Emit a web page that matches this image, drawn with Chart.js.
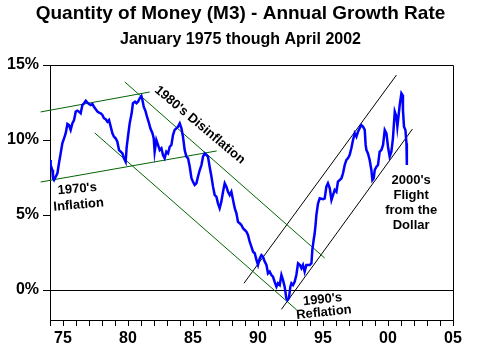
<!DOCTYPE html>
<html><head><meta charset="utf-8">
<script src="https://cdn.jsdelivr.net/npm/chart.js@4/dist/chart.umd.min.js"></script>
<style>html,body{margin:0;padding:0;background:#fff}#wrap{width:481px;height:360px}</style>
</head><body><div id="wrap"><canvas id="c" width="481" height="360"></canvas></div>
<script>
// ---- Data ----
const years = [74.0,74.05,74.18,74.23,74.31,74.57,74.69,74.82,74.95,75.08,
75.21,75.34,75.46,75.59,75.72,75.85,75.98,76.11,76.23,76.36,
76.49,76.62,76.75,76.88,77.0,77.13,77.26,77.38,77.52,77.65,
77.77,77.9,78.03,78.15,78.28,78.42,78.54,78.67,78.8,78.92,
79.05,79.18,79.31,79.44,79.57,79.69,79.82,79.9,80.03,80.13,
80.28,80.38,80.54,80.65,80.77,80.9,81.03,81.11,81.21,81.36,
81.46,81.62,81.72,81.88,81.98,82.05,82.18,82.31,82.44,82.57,
82.69,82.82,82.95,83.08,83.21,83.34,83.46,83.59,83.72,83.85,
83.98,84.11,84.23,84.36,84.49,84.62,84.75,84.88,85.0,85.13,
85.26,85.38,85.52,85.65,85.77,85.9,86.03,86.15,86.28,86.42,
86.54,86.67,86.8,86.92,87.05,87.18,87.31,87.44,87.57,87.69,
87.82,87.95,88.08,88.21,88.34,88.46,88.59,88.72,88.85,88.98,
89.11,89.23,89.36,89.49,89.62,89.75,89.88,90.0,90.13,90.26,
90.38,90.52,90.65,90.77,90.9,91.03,91.15,91.28,91.42,91.54,
91.67,91.8,91.92,92.05,92.18,92.26,92.38,92.49,92.57,92.69,
92.82,92.95,93.08,93.23,93.34,93.46,93.59,93.72,93.98,94.11,
94.18,94.28,94.36,94.44,94.49,94.62,94.75,95.0,95.13,95.26,
95.38,95.52,95.65,95.77,95.9,96.03,96.15,96.28,96.42,96.54,
96.67,96.8,96.92,97.05,97.18,97.31,97.44,97.57,97.69,97.82,
97.95,98.08,98.21,98.28,98.34,98.46,98.59,98.72,98.8,98.9,
98.98,99.11,99.23,99.36,99.49,99.62,99.75,99.88,100.0,100.13,
100.26,100.38,100.52,100.65,100.72,100.82,100.9,101.03,101.11,101.15,
101.23,101.34,101.42,101.45];
const m3Growth = [8.67,8.33,8.0,7.45,7.33,7.78,8.45,9.11,9.78,10.11,
10.45,11.07,11.0,10.67,11.11,11.33,11.89,11.95,11.89,11.78,
12.33,12.45,12.62,12.49,12.4,12.33,12.4,12.22,12.05,11.89,
11.82,11.78,11.67,11.45,11.38,11.22,11.33,10.89,10.45,10.22,
10.11,9.89,9.33,9.22,9.11,8.78,8.55,9.55,10.45,11.11,
11.78,12.45,12.55,12.45,12.55,12.78,12.93,12.67,12.22,11.89,
11.55,11.11,10.78,10.45,10.11,9.22,10.0,9.67,9.33,9.45,
9.0,8.78,9.22,9.11,9.55,9.67,10.33,10.67,10.78,10.89,
11.11,10.78,10.22,9.33,8.89,8.78,8.22,7.45,7.22,7.0,
7.11,7.55,8.0,8.33,8.89,9.11,9.0,8.89,8.22,7.55,
6.89,6.33,6.22,5.78,5.45,5.89,6.55,7.11,6.89,6.55,
6.33,6.55,6.0,5.45,5.11,4.55,4.45,4.33,4.11,4.0,
3.89,3.67,3.22,2.89,2.55,2.45,2.0,1.67,2.11,2.33,
2.22,1.89,1.67,1.11,1.22,1.0,0.89,0.55,0.22,0.45,
0.33,1.0,0.67,0.22,-0.55,-0.67,-0.55,0.22,0.45,0.33,
0.55,1.0,1.78,1.67,1.45,1.67,1.22,1.67,1.67,1.78,
2.67,3.33,3.78,4.45,5.0,5.78,6.11,6.05,6.11,6.89,
7.11,6.78,6.0,6.33,6.67,6.55,7.22,7.33,7.45,7.78,
8.33,8.67,8.78,9.0,9.45,10.0,10.45,10.22,10.55,10.78,
11.0,10.89,10.67,9.67,9.33,9.11,8.67,8.0,7.33,7.45,
8.0,8.22,8.33,9.22,9.33,9.67,10.67,10.45,9.55,8.89,
9.22,10.11,11.89,11.55,10.89,11.67,12.33,13.11,13.0,12.0,
10.89,10.67,9.78,8.33];

// Trend channel lines: [x1, x2] in years, [y1, y2] in percent
const up70sX = [73.28, 81.67],  up70sY = [11.87, 13.2];
const lo70sX = [73.28, 86.82],  lo70sY = [7.2, 9.27];
const up80sX = [79.75, 95.13],  up80sY = [13.87, 2.13];
const lo80sX = [77.44, 92.98],  lo80sY = [10.47, -1.33];
const up90sX = [88.92, 100.65], up90sY = [0.45, 14.33];
const lo90sX = [91.8, 101.88],  lo90sY = [-1.29, 10.73];

const yTickValues = [0, 5, 10, 15];
const xLabelYears = [75, 80, 85, 90, 95, 100, 105];
const xMinorYears = [];
for (let v = 74; v <= 105; v++) xMinorYears.push(v);

const titleText = 'Quantity of Money (M3) - Annual Growth Rate';
const subtitleText = 'January 1975 though April 2002';

const notes = [
  {lines: ["1970's", "Inflation"], x: 76.15, y: 6.2, rot: -5, lh: 16},
  {lines: ["1980's Disinflation"], x: 85.52, y: 11.0, rot: 40, lh: 14},
  {lines: ["1990's", "Reflation"], x: 95.02, y: -1.07, rot: -6, lh: 13},
  {lines: ["2000's", "Flight", "from the", "Dollar"], x: 101.78, y: 5.83, rot: 0, lh: 15}
];

// ---- Build ----
const F = "'Liberation Sans', Arial, Helvetica, sans-serif";
const pts = (xs, ys) => xs.map((x, i) => ({x: x, y: ys[i]}));
const trend = (xs, ys, color, clip) => ({
  data: pts(xs, ys), borderColor: color, borderWidth: 1, pointRadius: 0,
  fill: false, tension: 0, clip: clip ? false : undefined
});

const framePlugin = {
  id: 'frame',
  beforeDatasetsDraw(chart) {
    const {ctx, chartArea: a} = chart;
    ctx.save();
    ctx.strokeStyle = '#000'; ctx.lineWidth = 1;
    ctx.beginPath();
    const t = Math.round(a.top) + 0.5, r = Math.round(a.right) + 0.5;
    ctx.moveTo(Math.round(a.left), t); ctx.lineTo(r, t); ctx.lineTo(r, Math.round(a.bottom) + 1);
    ctx.stroke();
    ctx.restore();
  }
};
const notesPlugin = {
  id: 'notes',
  afterDatasetsDraw(chart) {
    const {ctx} = chart, xs = chart.scales.x, ys = chart.scales.y;
    ctx.save();
    ctx.fillStyle = '#000';
    ctx.font = 'bold 13px ' + F;
    ctx.textAlign = 'center'; ctx.textBaseline = 'middle';
    notes.forEach(n => {
      ctx.save();
      ctx.translate(xs.getPixelForValue(n.x), ys.getPixelForValue(n.y));
      ctx.rotate(n.rot * Math.PI / 180);
      n.lines.forEach((l, i) => ctx.fillText(l, 0, (i - (n.lines.length - 1) / 2) * n.lh));
      ctx.restore();
    });
    ctx.restore();
  }
};

new Chart(document.getElementById('c'), {
  type: 'line',
  data: {
    datasets: [
      {data: pts(years, m3Growth), borderColor: '#0000ff', borderWidth: 2.5, pointRadius: 0, fill: false, tension: 0},
      trend(up70sX, up70sY, '#006400', true),
      trend(lo70sX, lo70sY, '#006400', true),
      trend(up80sX, up80sY, '#006400'),
      trend(lo80sX, lo80sY, '#006400'),
      trend(up90sX, up90sY, '#000000'),
      trend(lo90sX, lo90sY, '#000000')
    ]
  },
  options: {
    responsive: false, animation: false, devicePixelRatio: 1,
    layout: {padding: {left: 0, right: 0, top: 0, bottom: 0}},
    plugins: {
      legend: {display: false}, tooltip: {enabled: false},
      title: {display: true, text: titleText, color: '#000',
        font: {family: F, size: 19, weight: 'bold'}, padding: {top: 2, bottom: 3}},
      subtitle: {display: true, text: subtitleText, color: '#000',
        font: {family: F, size: 16, weight: 'bold'}, padding: {top: 2, bottom: 16}}
    },
    scales: {
      x: {
        type: 'linear', min: 74, max: 105,
        afterBuildTicks: s => { s.ticks = xMinorYears.map(v => ({value: v})); },
        afterFit: s => { s.height = 40; },
        ticks: {autoSkip: false, maxRotation: 0, minRotation: 0, padding: 3, color: '#000',
          font: {family: F, size: 16, weight: 'bold'},
          callback: v => xLabelYears.includes(v) ? String(v % 100).padStart(2, '0') : ''},
        grid: {drawOnChartArea: false, drawTicks: true, tickLength: 6, tickColor: '#000'},
        border: {display: true, color: '#000', width: 1}
      },
      y: {
        type: 'linear', min: -2, max: 15,
        afterBuildTicks: s => { s.ticks = yTickValues.map(v => ({value: v})); },
        afterFit: s => { s.width = 50; },
        ticks: {padding: 4, color: '#000', font: {family: F, size: 16, weight: 'bold'},
          callback: v => v + '%'},
        grid: {color: c => (c.tick && c.tick.value === 0) ? '#000' : 'rgba(0,0,0,0)',
          tickColor: '#000', tickLength: 7, lineWidth: 1},
        border: {display: true, color: '#000', width: 1}
      },
      yRight: {
        type: 'linear', position: 'right', min: -2, max: 15, display: true,
        afterFit: s => { s.width = 28; },
        ticks: {display: false},
        grid: {display: false, drawTicks: false},
        border: {display: false}
      }
    }
  },
  plugins: [framePlugin, notesPlugin]
});
</script></body></html>
